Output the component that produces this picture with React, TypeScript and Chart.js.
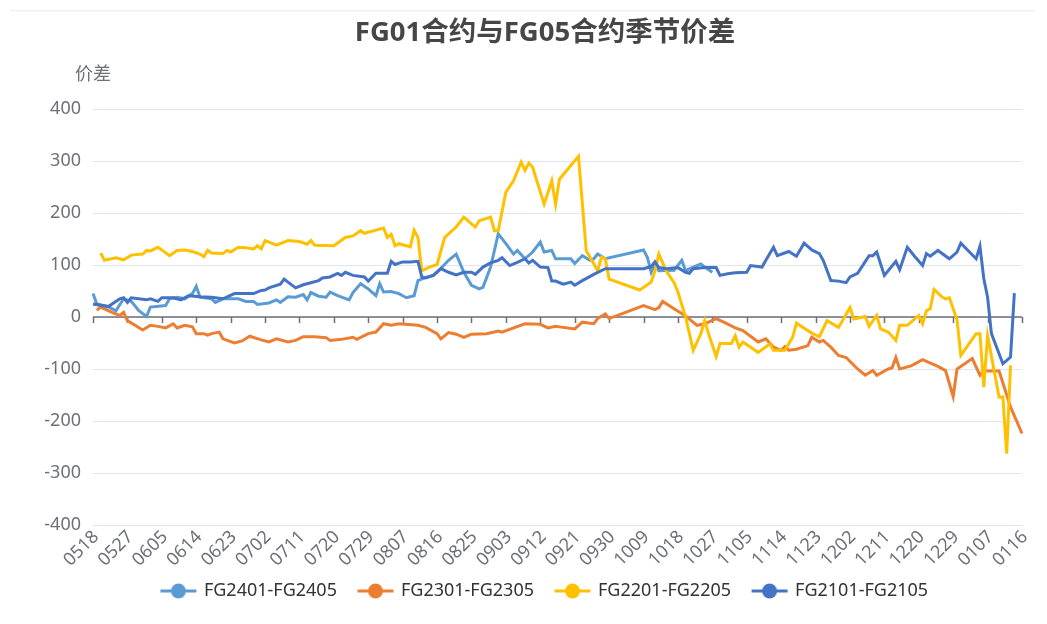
import React, { useEffect, useRef } from 'react';
import { Chart, registerables } from 'chart.js';

Chart.register(...registerables);

const chartTitle = 'FG01合约与FG05合约季节价差';
const yAxisName = '价差';
const yTicks = [-400, -300, -200, -100, 0, 100, 200, 300, 400];

// daily categories 0518 .. 0116
const categories: string[] = [];
for (let d = new Date(2020, 4, 18); d <= new Date(2021, 0, 16); d.setDate(d.getDate() + 1)) {
  categories.push(String(d.getMonth() + 1).padStart(2, '0') + String(d.getDate()).padStart(2, '0'));
}
const labelEvery = 9;

const seriesNames = ['FG2401-FG2405', 'FG2301-FG2305', 'FG2201-FG2205', 'FG2101-FG2105'];
const seriesColors = ['#5B9BD5', '#ED7D31', '#FFC000', '#4472C4'];

const fg2401Dates = ['0518','0519','0522','0524','0526','0528','0530','0601','0602','0606','0607','0609','0611','0613','0614','0615','0618','0619','0621','0625','0627','0629','0630','0703','0705','0706','0708','0710','0712','0713','0714','0716','0718','0719','0721','0724','0725','0727','0729','0731','0801','0802','0804','0806','0808','0810','0811','0813','0815','0816','0819','0821','0823','0825','0827','0828','0830','0901','0903','0905','0906','0908','0910','0912','0913','0915','0916','0920','0921','0923','0925','0926','0927','0929','1009','1010','1011','1012','1013','1017','1019','1020','1022','1024','1025','1027'];
const fg2401Values = [45,25,20,12,35,30,12,1,19,22,35,38,35,45,59,38,35,28,35,35,30,30,24,27,33,28,39,38,43,33,47,40,38,48,41,33,47,64,54,41,64,48,49,45,37,41,70,76,80,86,109,121,86,61,54,57,96,160,141,121,128,112,125,144,125,128,112,112,103,118,109,112,121,112,129,115,86,102,89,90,109,89,96,102,96,86];

const fg2301Dates = ['0519','0520','0523','0525','0526','0527','0529','0531','0602','0604','0606','0608','0609','0611','0613','0614','0616','0617','0618','0620','0621','0624','0626','0628','0701','0703','0705','0708','0710','0712','0715','0718','0719','0722','0725','0726','0729','0731','0802','0804','0806','0811','0813','0816','0817','0819','0821','0823','0825','0829','0901','0902','0905','0908','0912','0914','0916','0917','0921','0923','0926','0927','0929','0930','1009','1012','1013','1014','1017','1020','1023','1025','1028','1030','1102','1104','1108','1110','1112','1114','1115','1116','1118','1121','1122','1124','1125','1127','1129','1201','1204','1206','1208','1209','1212','1213','1214','1215','1218','1221','1225','1227','1229','1230','0103','0105','0106','0110','0113','0116'];
const fg2301Values = [13,19,9,3,9,-7,-16,-25,-16,-18,-21,-13,-21,-16,-19,-32,-32,-35,-32,-29,-42,-50,-46,-37,-44,-48,-42,-48,-45,-38,-38,-40,-45,-43,-39,-43,-32,-29,-13,-16,-13,-16,-20,-32,-42,-30,-33,-39,-33,-32,-27,-29,-21,-13,-14,-21,-18,-19,-23,-10,-13,-3,6,-3,22,14,18,30,16,2,-16,-13,-3,-10,-21,-26,-48,-42,-58,-64,-57,-64,-62,-55,-39,-48,-45,-58,-74,-78,-100,-112,-103,-112,-100,-98,-78,-100,-94,-82,-95,-103,-153,-100,-80,-112,-104,-104,-173,-224];

const fg2201Dates = ['0520','0521','0524','0526','0528','0531','0601','0602','0604','0605','0607','0609','0611','0613','0615','0616','0617','0618','0621','0622','0623','0625','0627','0629','0630','0701','0702','0704','0705','0708','0711','0713','0714','0715','0720','0723','0725','0727','0728','0731','0802','0803','0804','0805','0806','0809','0810','0811','0812','0814','0816','0818','0821','0823','0825','0826','0827','0830','0831','0901','0903','0905','0907','0908','0909','0910','0913','0915','0916','0917','0922','0924','0927','0928','0929','0930','1008','1011','1012','1013','1015','1017','1018','1020','1022','1024','1025','1026','1028','1029','1101','1102','1103','1104','1108','1111','1112','1115','1117','1118','1122','1124','1126','1129','1202','1203','1206','1207','1209','1210','1212','1214','1215','1217','1220','1221','1222','1223','1224','1226','1227','1228','1230','1231','0104','0105','0106','0107','0110','0111','0112','0113'];
const fg2201Values = [123,109,114,110,119,121,128,127,134,129,118,128,129,126,121,116,128,123,122,128,125,134,133,131,137,131,147,141,138,147,145,140,147,138,137,153,156,166,161,167,171,153,159,137,141,135,167,153,89,96,101,153,173,192,179,173,185,192,166,166,240,262,298,282,296,288,217,262,217,265,309,128,89,115,112,73,52,67,89,121,88,66,48,0,-64,-32,-7,-32,-76,-51,-51,-36,-58,-48,-68,-52,-64,-64,-39,-12,-31,-38,-7,-20,18,-4,1,-18,3,-23,-29,-45,-16,-16,3,-13,12,16,53,39,35,37,-5,-74,-32,-32,-135,-36,-154,-154,-263,-93];

const fg2101Dates = ['0518','0522','0525','0526','0527','0528','0601','0602','0604','0605','0608','0610','0612','0615','0618','0621','0624','0629','0701','0702','0703','0706','0707','0708','0710','0712','0714','0716','0717','0719','0721','0722','0723','0725','0728','0729','0731','0803','0804','0805','0807','0809','0811','0812','0813','0815','0817','0819','0821','0823','0825','0826','0828','0830','0901','0902','0904','0906','0908','0909','0910','0912','0914','0915','0916','0918','0920','0921','0923','0926','0929','1009','1011','1012','1013','1015','1018','1020','1021','1022','1025','1028','1029','1031','1102','1105','1106','1109','1110','1112','1113','1116','1118','1120','1122','1124','1125','1127','1129','1201','1202','1204','1207','1208','1209','1211','1214','1215','1217','1219','1221','1222','1223','1225','1228','1230','1231','0104','0105','0106','0107','0108','0111','0113','0114'];
const fg2101Values = [25,20,35,37,28,37,33,35,30,37,37,33,41,39,38,35,45,45,51,52,56,63,73,67,56,62,66,70,75,77,84,80,86,80,77,69,84,84,107,101,106,106,107,77,75,80,93,86,81,86,86,82,96,104,109,114,99,105,112,104,109,96,95,69,69,63,67,61,70,82,93,93,97,106,95,93,95,86,84,93,95,95,80,83,85,86,99,96,109,134,118,126,117,142,129,122,109,70,69,66,77,84,118,118,125,80,107,91,134,116,99,122,117,128,112,125,142,112,136,74,38,-32,-90,-77,46];

const seriesDates = [fg2401Dates, fg2301Dates, fg2201Dates, fg2101Dates];
const seriesValues = [fg2401Values, fg2301Values, fg2201Values, fg2101Values];

const FONT = "'Noto Sans', 'Noto Sans CJK SC', sans-serif";
const AXIS_COLOR = '#6E7079';

function makeIcon(color: string): HTMLCanvasElement {
  const c = document.createElement('canvas');
  c.width = 38;
  c.height = 20;
  const g = c.getContext('2d')!;
  g.strokeStyle = color;
  g.lineWidth = 3;
  g.beginPath();
  g.moveTo(1, 10);
  g.lineTo(37, 10);
  g.stroke();
  g.fillStyle = color;
  g.beginPath();
  g.arc(19, 10, 7.5, 0, Math.PI * 2);
  g.fill();
  return c;
}

const decorPlugin = {
  id: 'decor',
  beforeDatasetsDraw(chart: any) {
    const { ctx, chartArea, scales } = chart;
    const y0 = scales.y.getPixelForValue(0);
    ctx.save();
    ctx.strokeStyle = AXIS_COLOR;
    ctx.lineWidth = 1.5;
    ctx.beginPath();
    ctx.moveTo(chartArea.left, y0);
    ctx.lineTo(chartArea.right, y0);
    for (let i = 0; i < categories.length; i += labelEvery) {
      const px = Math.round(scales.x.getPixelForValue(i)) + 0.5;
      ctx.moveTo(px, y0);
      ctx.lineTo(px, y0 + 6);
    }
    ctx.stroke();
    ctx.restore();
  },
  afterDraw(chart: any) {
    const { ctx, chartArea, scales } = chart;
    ctx.save();
    ctx.fillStyle = '#f2f2f2';
    ctx.fillRect(10, 10, 1025, 1.5);
    ctx.fillStyle = AXIS_COLOR;
    ctx.font = `18px ${FONT}`;
    ctx.textAlign = 'center';
    ctx.textBaseline = 'middle';
    ctx.fillText(yAxisName, chartArea.left, 75);
    // y tick labels
    ctx.textAlign = 'right';
    for (const v of yTicks) {
      ctx.fillText(String(v), chartArea.left - 12, scales.y.getPixelForValue(v));
    }
    // rotated category labels
    ctx.textAlign = 'right';
    for (let i = 0; i < categories.length; i += labelEvery) {
      const px = scales.x.getPixelForValue(i);
      ctx.save();
      ctx.translate(px + 3, chartArea.bottom + 9);
      ctx.rotate(-Math.PI / 4);
      ctx.fillText(categories[i], 0, 0);
      ctx.restore();
    }
    ctx.restore();
  },
};

export default function App() {
  const ref = useRef<HTMLCanvasElement>(null);
  useEffect(() => {
    if (!ref.current) return;
    const icons = seriesColors.map(makeIcon);
    const datasets = seriesNames.map((name, i) => ({
      label: name,
      data: seriesDates[i].map((d, j) => ({ x: d, y: seriesValues[i][j] })),
      borderColor: seriesColors[i],
      backgroundColor: seriesColors[i],
      borderWidth: 3,
      pointRadius: 0,
      pointHoverRadius: 0,
      tension: 0,
      spanGaps: true,
      order: seriesNames.length - i,
    }));
    const chart = new Chart(ref.current, {
      type: 'line',
      data: { labels: categories, datasets },
      plugins: [decorPlugin],
      options: {
        animation: false,
        responsive: true,
        maintainAspectRatio: false,
        layout: { padding: { left: 68, right: 25, top: 0, bottom: 14 } },
        plugins: {
          tooltip: { enabled: false },
          title: {
            display: true,
            text: chartTitle,
            color: '#464646',
            font: { size: 27.5, weight: 'bold', family: FONT },
            padding: { top: 16.5, bottom: 59.5 },
          },
          legend: {
            position: 'bottom',
            labels: {
              usePointStyle: true,
              pointStyleWidth: 33,
              padding: 22,
              color: '#333',
              font: { size: 18, family: FONT },
              generateLabels: (c: any) =>
                c.data.datasets.map((ds: any, i: number) => ({
                  text: ds.label,
                  pointStyle: icons[i],
                  fillStyle: ds.borderColor,
                  strokeStyle: ds.borderColor,
                  lineWidth: 0,
                  hidden: false,
                  datasetIndex: i,
                  fontColor: '#333',
                })),
            },
          },
        },
        scales: {
          x: {
            type: 'category',
            offset: false,
            grid: { display: false, drawTicks: false },
            border: { display: false },
            ticks: { display: false },
            afterFit: (s: any) => {
              s.height = 35;
              s.paddingLeft = 0;
              s.paddingRight = 0;
            },
          },
          y: {
            min: -400,
            max: 400,
            afterBuildTicks: (s: any) => {
              s.ticks = yTicks.map((v) => ({ value: v }));
            },
            grid: { color: '#E0E6F1', lineWidth: 1, drawTicks: false },
            border: { display: false },
            ticks: { display: false },
            afterFit: (s: any) => {
              s.width = 25;
              s.paddingTop = 0;
              s.paddingBottom = 0;
            },
          },
        },
      },
    });
    return () => chart.destroy();
  }, []);
  return (
    <div style={{ position: 'absolute', left: 0, top: 0, width: 1047, height: 624, background: '#fff' }}>
      <canvas ref={ref} />
    </div>
  );
}
